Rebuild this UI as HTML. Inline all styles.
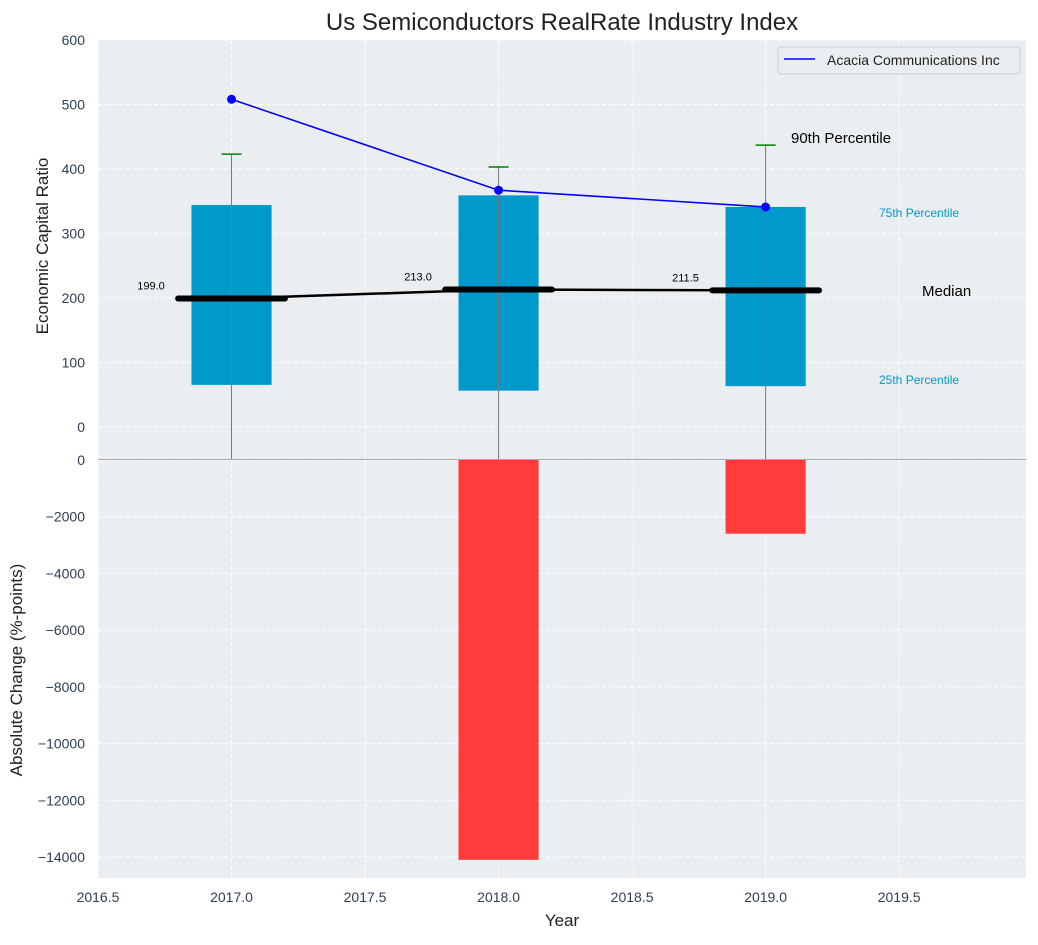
<!DOCTYPE html>
<html><head><meta charset="utf-8"><style>
body{margin:0;background:#fff;font-family:"Liberation Sans",sans-serif}
svg text{font-family:"Liberation Sans",sans-serif}
</style></head><body>
<svg id="c" width="1038" height="940" xmlns="http://www.w3.org/2000/svg"></svg>
<script>
const years=[2017,2018,2019];
const q25=[65,56,63];
const q75=[344,359,341];
const p90=[423,403,437];
const medians=[199.0,213.0,211.5];
const company=[508,367,341];
const changes=[0,-14100,-2600];
const topTicks=[0,100,200,300,400,500,600];
const botTicks=[0,-2000,-4000,-6000,-8000,-10000,-12000,-14000];
const xTicks=[2016.5,2017.0,2017.5,2018.0,2018.5,2019.0,2019.5];

const NS="http://www.w3.org/2000/svg";
const svg=document.getElementById('c');
const L=98,R=1026,T1=40,B1=459,T2=460,B2=878;
const x=v=>L+(v-2016.5)/(2019.975-2016.5)*(R-L);
const y1=v=>T1+(600-v)/(650)*(B1-T1);
const y2=v=>T2+(0-v)/(14740)*(B2-T2);
function el(tag,attrs,parent){const e=document.createElementNS(NS,tag);for(const k in attrs)e.setAttribute(k,attrs[k]);(parent||svg).appendChild(e);return e;}
function txt(s,attrs,parent){const e=el('text',attrs,parent);e.textContent=s;return e;}

// backgrounds
let bg=el('rect',{x:L,y:T1,width:R-L,height:B1-T1,fill:'#eaeef0'});

let bg2=el('rect',{x:L,y:T2,width:R-L,height:B2-T2,fill:'#eaeef0'});


// grids
xTicks.concat([2019.975]).forEach(v=>{
 if(v>2019.9)return;
 el('line',{x1:x(v),x2:x(v),y1:T1,y2:B1,stroke:'#fff','stroke-dasharray':'4,3'});
 el('line',{x1:x(v),x2:x(v),y1:T2,y2:B2,stroke:'#fff','stroke-dasharray':'4,3'});
});
topTicks.forEach(v=>{el('line',{x1:L,x2:R,y1:y1(v),y2:y1(v),stroke:'#fff','stroke-dasharray':'4,3'});
 const t=txt(v,{x:L-13,y:y1(v)+5,'text-anchor':'end','font-size':14,fill:'#2e3e52'});
 });
botTicks.forEach(v=>{el('line',{x1:L,x2:R,y1:y2(v),y2:y2(v),stroke:'#fff','stroke-dasharray':'4,3'});
 const t=txt(v===0?'0':'\u2212'+Math.abs(v),{x:L-13,y:y2(v)+5,'text-anchor':'end','font-size':14,fill:'#2e3e52'});
 });
xTicks.forEach(v=>{const t=txt(v.toFixed(1),{x:x(v),y:902,'text-anchor':'middle','font-size':14,fill:'#2e3e52'});
 });
el('line',{x1:L,x2:R,y1:459.5,y2:459.5,stroke:'#aaa'});

const bw=0.3;
years.forEach((yr,i)=>{
 const b=el('rect',{x:x(yr-bw/2),y:y1(q75[i]),width:x(yr+bw/2)-x(yr-bw/2),height:y1(q25[i])-y1(q75[i]),fill:'#0099cc'});
 
 el('line',{x1:x(yr),x2:x(yr),y1:y1(p90[i]),y2:B1,stroke:'#777','stroke-width':1});
 const w=el('line',{x1:x(yr)-10,x2:x(yr)+10,y1:y1(p90[i]),y2:y1(p90[i]),stroke:'green','stroke-width':1.5});
 
 if(changes[i]!==0){const c=el('rect',{x:x(yr-bw/2),y:y2(0),width:x(yr+bw/2)-x(yr-bw/2),height:y2(changes[i])-y2(0),fill:'#ff3b3b'});
  }
});
// median connector
let mp=el('polyline',{points:years.map((yr,i)=>x(yr)+','+y1(medians[i])).join(' '),fill:'none',stroke:'#000','stroke-width':2.5});

years.forEach((yr,i)=>{
 const m=el('line',{x1:x(yr-0.2),x2:x(yr+0.2),y1:y1(medians[i]),y2:y1(medians[i]),stroke:'#000','stroke-width':6,'stroke-linecap':'round'});
 
 const t=txt(medians[i].toFixed(1),{x:x(yr-0.25),y:y1(medians[i])-9,'text-anchor':'end','font-size':11,fill:'#000'});
 
});
// company line
let cl=el('polyline',{points:years.map((yr,i)=>x(yr)+','+y1(company[i])).join(' '),fill:'none',stroke:'#0000ff','stroke-width':1.6});

years.forEach((yr,i)=>{const p=el('circle',{cx:x(yr),cy:y1(company[i]),r:4.5,fill:'#0000ff'});
 });

// annotations
txt('90th Percentile',{x:791,y:143,'font-size':15,fill:'#000'});
txt('75th Percentile',{x:879,y:217,'font-size':12,fill:'#0099cc'});
txt('Median',{x:922,y:296,'font-size':15,fill:'#000'});
txt('25th Percentile',{x:879,y:384,'font-size':12,fill:'#0099cc'});

// legend
const lg=el('g',{});

el('rect',{x:778,y:47,width:242,height:27,rx:3,fill:'#eaeef0',stroke:'#ccc'},lg);
el('line',{x1:784,x2:815,y1:59,y2:59,stroke:'#0000ff','stroke-width':1.6},lg);
txt('Acacia Communications Inc',{x:827,y:65,'font-size':14,fill:'#222'},lg);

// titles
let tt=txt('Us Semiconductors RealRate Industry Index',{x:562,y:30,'text-anchor':'middle','font-size':24,fill:'#222'});

let xl=txt('Year',{x:562,y:926,'text-anchor':'middle','font-size':17,fill:'#222'});

let ya=txt('Economic Capital Ratio',{x:0,y:0,'text-anchor':'middle','font-size':17,fill:'#222',transform:'translate(48,246) rotate(-90)'});

let yb=txt('Absolute Change (%-points)',{x:0,y:0,'text-anchor':'middle','font-size':17,fill:'#222',transform:'translate(22,670) rotate(-90)'});

</script>
</body></html>
